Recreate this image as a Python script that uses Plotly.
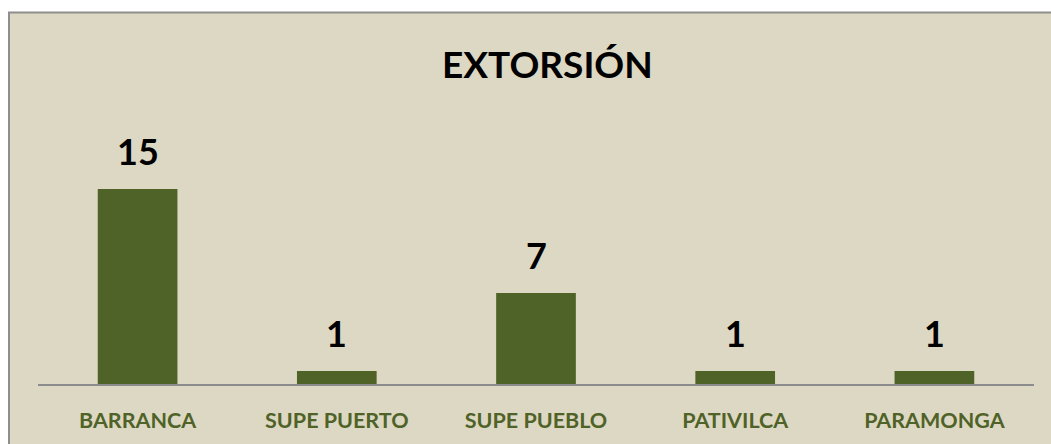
import plotly.graph_objects as go

categories = ["BARRANCA", "SUPE PUERTO", "SUPE PUEBLO", "PATIVILCA", "PARAMONGA"]
values = [15, 1, 7, 1, 1]
title_text = "EXTORSIÓN"

BAR = "#4F6228"
BG = "#DDD8C3"
W, H = 1051, 444
L, R, T, B = 38, 17, 176, 60
pw, ph = W - L - R, H - T - B

def px_x(x):
    return (x - L) / pw

def px_y(y):
    return (H - B - y) / ph

fig = go.Figure()
fig.add_trace(go.Bar(
    x=categories, y=values, marker_color=BAR, width=0.4,
    marker_line_width=0, hoverinfo="skip",
))

for c, v in zip(categories, values):
    fig.add_annotation(x=c, y=v, text=f"<b>{v}</b>", showarrow=False,
                       yanchor="bottom", yshift=14,
                       font=dict(family="Lato", size=36, color="black"))

fig.add_annotation(xref="paper", yref="paper", x=px_x(547), y=px_y(64),
                   text=f"<b>{title_text}</b>", showarrow=False,
                   xanchor="center", yanchor="middle",
                   font=dict(family="Lato", size=37, color="black"))

fig.add_shape(type="rect", xref="paper", yref="paper", layer="below",
              x0=px_x(9), x1=px_x(1070), y0=px_y(12.5), y1=px_y(470),
              line=dict(color="#8E8E8E", width=2), fillcolor=BG)

fig.update_layout(
    width=W, height=H, margin=dict(l=L, r=R, t=T, b=B),
    paper_bgcolor="white", plot_bgcolor="rgba(0,0,0,0)",
    showlegend=False, bargap=0.6,
    xaxis=dict(range=[-0.5, 4.5], showline=True, linecolor="#8C8C8C", linewidth=1.5,
               ticks="outside", ticklen=16, tickcolor="rgba(0,0,0,0)",
               tickfont=dict(family="Lato", size=21.5, color=BAR),
               tickprefix="<b>", ticksuffix="</b>", showgrid=False, zeroline=False),
    yaxis=dict(range=[0, 16], visible=False, showgrid=False, zeroline=False),
)
fig.write_html("out.html", config={"displayModeBar": False},
               post_script="document.body.style.margin='0';"
                           "document.body.style.overflow='hidden';")
